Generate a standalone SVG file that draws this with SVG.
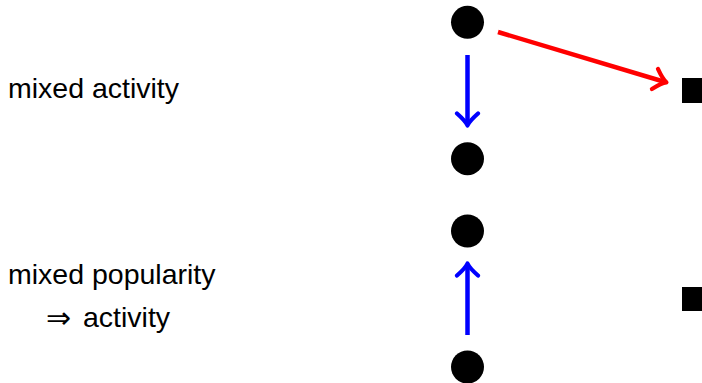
<svg xmlns="http://www.w3.org/2000/svg" width="702" height="383" viewBox="0 0 702 383">
  <style>
    .lbl { font-family: "Liberation Sans", Arial, sans-serif; font-size: 28.5px; fill: #000; }
    .sym { font-family: "DejaVu Sans", sans-serif; font-size: 30px; }
    .actor { fill: #000; }
    .edge { fill: none; stroke-width: 4.5; }
    .blue { stroke: #0000ff; }
    .red { stroke: #ff0000; }
  </style>
  <defs>
    <marker id="headBlue" markerUnits="userSpaceOnUse" viewBox="-14 -14 18 28" markerWidth="18" markerHeight="28" refX="0" refY="0" orient="auto">
      <path d="M -10.5 -10.5 Q -3 -2 1.5 0 Q -3 2 -10.5 10.5" fill="none" stroke="#0000ff" stroke-width="4.2" stroke-linecap="round" stroke-linejoin="round"/>
    </marker>
    <marker id="headRed" markerUnits="userSpaceOnUse" viewBox="-14 -14 18 28" markerWidth="18" markerHeight="28" refX="0" refY="0" orient="auto">
      <path d="M -10.5 -10.5 Q -3 -2 1.5 0 Q -3 2 -10.5 10.5" fill="none" stroke="#ff0000" stroke-width="4.2" stroke-linecap="round" stroke-linejoin="round"/>
    </marker>
  </defs>

  <!-- row labels -->
  <text class="lbl" x="8" y="98">mixed activity</text>
  <text class="lbl" x="8" y="284">mixed popularity</text>
  <text class="lbl" y="327"><tspan class="sym" x="46" dy="1">⇒</tspan><tspan x="83" dy="-1">activity</tspan></text>

  <!-- actors (circles) and objects (squares) -->
  <g id="actor-a1"><circle class="actor" cx="467.5" cy="22.3" r="16.5"/></g>
  <g id="actor-a2"><circle class="actor" cx="467.5" cy="158.7" r="16.5"/></g>
  <g id="actor-b1"><circle class="actor" cx="467.5" cy="231" r="16.5"/></g>
  <g id="actor-b2"><circle class="actor" cx="467.5" cy="367" r="16.5"/></g>
  <g id="object-1"><rect class="actor" x="682" y="78" width="25" height="25"/></g>
  <g id="object-2"><rect class="actor" x="682" y="287" width="25" height="24"/></g>

  <!-- ties -->
  <g id="connectors">
    <line class="edge blue" x1="467.5" y1="55" x2="467.5" y2="124" marker-end="url(#headBlue)"/>
    <line class="edge red" x1="498" y1="32" x2="665" y2="82" marker-end="url(#headRed)"/>
    <line class="edge blue" x1="467.5" y1="335" x2="467.5" y2="265" marker-end="url(#headBlue)"/>
  </g>
</svg>
